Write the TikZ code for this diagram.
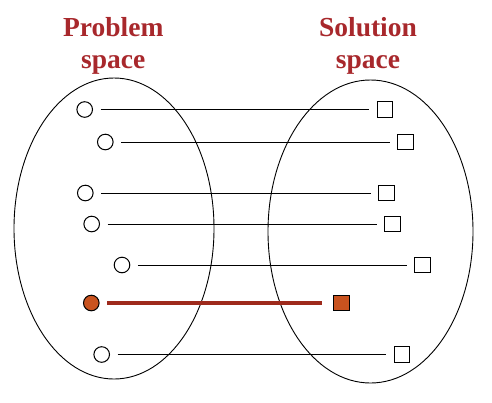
\documentclass[tikz,border=0pt]{standalone}
\usepackage{fontspec}
\setmainfont{Liberation Serif}
\definecolor{titlered}{HTML}{A8282C}
\definecolor{fillorange}{HTML}{C9531F}
\definecolor{linered}{HTML}{9E2A1C}
\begin{document}
\begin{tikzpicture}[x=1pt,y=-1pt,
  title/.style={font=\fontsize{27.5}{31}\selectfont\bfseries, text=titlered, anchor=base, inner sep=0},
  pt/.style={circle, draw, line width=1pt, minimum size=15.6pt, inner sep=0, fill=white},
  sol/.style={rectangle, draw, line width=1pt, minimum size=15.4pt, inner sep=0, fill=white},
  sel/.style={fill=fillorange},
  map/.style={line width=0.9pt, shorten <=7.5pt, shorten >=7.5pt},
  selmap/.style={line width=3.3pt, draw=linered, shorten <=7.5pt, shorten >=11.5pt},
  space/.style={line width=0.9pt}]
\useasboundingbox (0,0) rectangle (492,402);
\node[title] (p1) at (113.3,36.7) {Problem};
\node[title] (p2) at (113.3,68) {space};
\node[title] (s1t) at (368,36.7) {Solution};
\node[title] (s2t) at (368,68) {space};
\draw[space] (114,228.5) ellipse [x radius=100, y radius=150.5];
\draw[space] (370.5,231.5) ellipse [x radius=102.5, y radius=151.5];
\node[pt] (c1) at (84.7,109.5) {};
\node[pt] (c2) at (105.3,142) {};
\node[pt] (c3) at (85.3,193) {};
\node[pt] (c4) at (91.7,224) {};
\node[pt] (c5) at (122,265) {};
\node[pt,sel] (c6) at (91.3,303) {};
\node[pt] (c7) at (101.7,354.5) {};
\node[sol] (q1) at (385,109.5) {};
\node[sol] (q2) at (405.3,142) {};
\node[sol] (q3) at (386.3,193) {};
\node[sol] (q4) at (392.3,224) {};
\node[sol] (q5) at (422.3,265) {};
\node[sol,sel] (q6) at (341.3,303) {};
\node[sol] (q7) at (402,354.5) {};
\foreach \i in {1,2,3,4,5,7} \draw[map] (c\i) -- (q\i);
\draw[selmap] (c6) -- (q6);
\end{tikzpicture}
\end{document}
